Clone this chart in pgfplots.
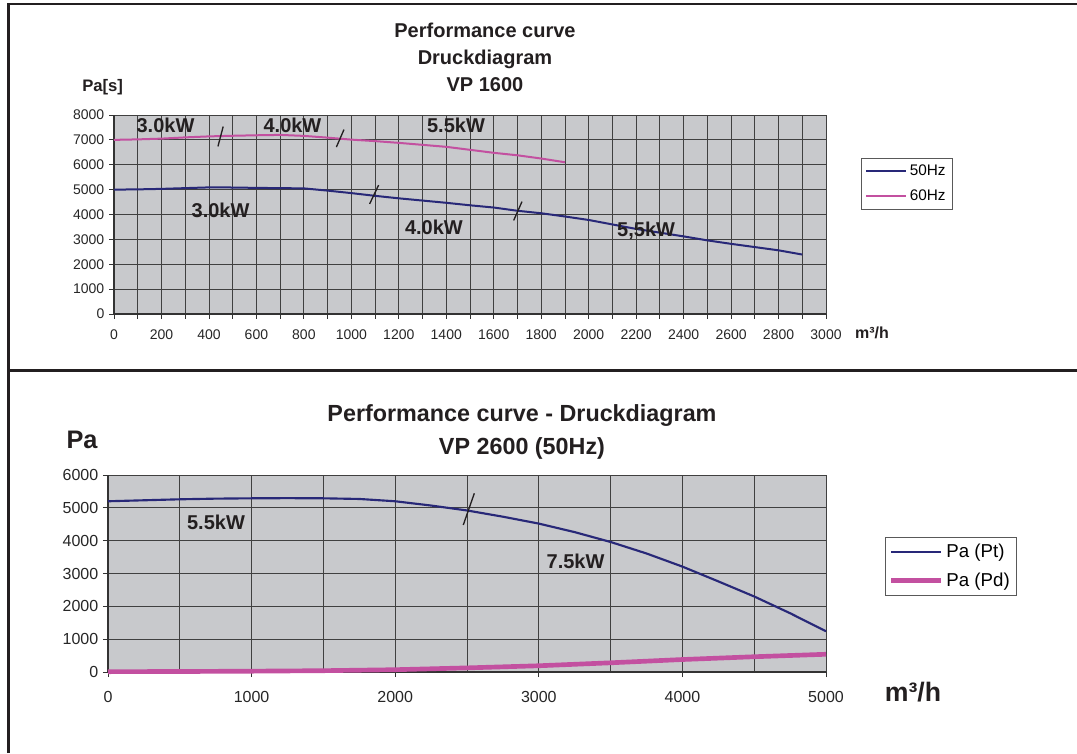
\documentclass[border=0pt]{standalone}
\usepackage{fontspec}
\setmainfont{Liberation Sans}
\usepackage{pgfplots}
\pgfplotsset{compat=1.18}

\definecolor{navy}{RGB}{40,40,120}
\definecolor{pinky}{RGB}{195,80,160}
\definecolor{plotbg}{RGB}{200,201,204}
\definecolor{ink}{RGB}{35,31,32}

\newcommand{\kw}{\bfseries\fontsize{15}{18}\selectfont}

\pgfplotsset{
  panel/.style={
    scale only axis,
    axis x line=bottom, axis y line=left,
    axis line style={-, black!80, line width=0.8pt},
    axis background/.style={fill=plotbg, draw=gray!60},
    grid=both,
    major grid style={black!75, line width=0.6pt},
    minor grid style={black!75, line width=0.6pt},
    tick align=outside,
    major tick length=3.75pt,
    tick style={black!80, line width=0.6pt},
    /pgf/number format/assume math mode=true,
    /pgf/number format/1000 sep={},
    legend cell align=left,
    clip=false,
  },
}

\begin{document}
\begin{tikzpicture}
\path[use as bounding box] (0,0) rectangle (807.75pt,564.75pt);

% frames
\draw[line width=1.9pt, ink] (6.4pt,0pt) -- (6.4pt,562.5pt);
\draw[line width=1.6pt, ink] (5.5pt,561.75pt) -- (807.75pt,561.75pt);
\draw[line width=2.25pt, ink] (5.5pt,286.5pt) -- (807.75pt,286.5pt);

% ---------- top chart ----------
\node[font=\bfseries\fontsize{15}{20.25}\selectfont, align=center, text=ink]
  at (363.75pt,522pt) {Performance curve\\Druckdiagram\\VP 1600};
\node[font=\bfseries\fontsize{12.5}{14}\selectfont, text=ink] at (77pt,499.5pt) {Pa[s]};
\node[font=\bfseries\fontsize{12}{14}\selectfont, text=ink] at (654pt,315pt) {m³/h};

\begin{axis}[panel,
  at={(85.5pt,329.25pt)}, anchor=south west,
  width=534pt, height=149.25pt,
  xmin=0, xmax=3000, ymin=0, ymax=8000,
  xtick={0,200,...,3000}, minor xtick={100,300,...,2900},
  minor tick length=3.75pt,
  ytick={0,1000,...,8000},
  tick label style={font=\fontsize{10.5}{12}\selectfont, text=black!85},
  xticklabel style={yshift=-4.5pt},
  legend style={at={(1.049,0.784)}, anchor=north west, draw=gray!70!black,
    font=\fontsize{11.5}{13}\selectfont, row sep=5pt, inner sep=3pt},
  legend image code/.code={\draw[#1] (0pt,0pt) -- (30pt,0pt);},
]
\addplot[navy, line width=1.5pt] coordinates {
  (0,5000) (100,5010) (200,5030) (300,5060) (400,5090) (500,5085)
  (600,5070) (700,5060) (800,5050) (900,4960) (1000,4860) (1100,4750)
  (1200,4650) (1300,4560) (1400,4470) (1500,4370) (1600,4280) (1700,4150)
  (1800,4050) (1900,3920) (2000,3780) (2100,3600) (2200,3420) (2300,3270)
  (2400,3120) (2500,2960) (2600,2820) (2700,2690) (2800,2560) (2900,2390)
};
\addplot[pinky, line width=1.5pt] coordinates {
  (0,7000) (100,7020) (200,7050) (300,7100) (400,7140) (500,7165)
  (600,7185) (700,7200) (800,7160) (900,7090) (1000,7010) (1100,6950)
  (1200,6880) (1300,6800) (1400,6720) (1500,6600) (1600,6480) (1700,6380)
  (1800,6250) (1900,6100)
};
\legend{50Hz, 60Hz}
% power change marks
\addplot[ink, line width=1pt, forget plot] coordinates {(438,6737) (460,7535)};
\addplot[ink, line width=1pt, forget plot] coordinates {(937,6711) (969,7415)};
\addplot[ink, line width=1pt, forget plot] coordinates {(1077,4425) (1115,5183)};
\addplot[ink, line width=1pt, forget plot] coordinates {(1684,3761) (1719,4518)};
\node[font=\kw, text=ink] at (axis cs:217,7598) {3.0kW};
\node[font=\kw, text=ink] at (axis cs:752,7598) {4.0kW};
\node[font=\kw, text=ink] at (axis cs:1441,7598) {5.5kW};
\node[font=\kw, text=ink] at (axis cs:449,4161) {3.0kW};
\node[font=\kw, text=ink] at (axis cs:1348,3498) {4.0kW};
\node[font=\kw, text=ink] at (axis cs:2242,3364) {5,5kW};
\end{axis}

% ---------- bottom chart ----------
\node[font=\bfseries\fontsize{17.5}{24.75}\selectfont, align=center, text=ink]
  at (391.5pt,241.1pt) {Performance curve - Druckdiagram\\VP 2600 (50Hz)};
\node[font=\bfseries\fontsize{19}{22}\selectfont, text=ink] at (61.5pt,234.75pt) {Pa};
\node[font=\bfseries\fontsize{20}{24}\selectfont, text=ink] at (684.75pt,45.75pt) {m³/h};

\begin{axis}[panel,
  at={(81pt,60.75pt)}, anchor=south west,
  width=538.5pt, height=147.75pt,
  xmin=0, xmax=5000, ymin=0, ymax=6000,
  xtick={0,1000,...,5000}, minor xtick={500,1500,...,4500},
  minor tick length=0pt,
  ytick={0,1000,...,6000},
  tick label style={font=\fontsize{12}{14}\selectfont, text=black!85},
  xticklabel style={yshift=-7.5pt},
  legend style={at={(1.082,0.685)}, anchor=north west, draw=gray!70!black,
    font=\fontsize{14}{16}\selectfont, row sep=6pt, inner sep=3pt},
  legend image code/.code={\draw[#1] (0pt,0pt) -- (37.5pt,0pt);},
]
\addplot[navy, line width=1.6pt] coordinates {
  (0,5200) (250,5230) (500,5260) (750,5280) (1000,5290) (1250,5295)
  (1500,5290) (1750,5270) (2000,5200) (2250,5070) (2500,4920) (2750,4730)
  (3000,4520) (3250,4260) (3500,3960) (3750,3610) (4000,3210) (4250,2760)
  (4500,2300) (4750,1790) (5000,1240)
};
\addplot[pinky, line width=3.5pt] coordinates {
  (0,10) (500,15) (1000,25) (1500,40) (2000,70) (2500,125) (3000,190)
  (3500,280) (4000,380) (4500,465) (5000,540)
};
\legend{Pa (Pt), Pa (Pd)}
\addplot[ink, line width=1pt, forget plot] coordinates {(2474,4477) (2551,5442)};
\node[font=\kw, text=ink] at (axis cs:752,4553) {5.5kW};
\node[font=\kw, text=ink] at (axis cs:3256,3360) {7.5kW};
\end{axis}
\end{tikzpicture}
\end{document}
